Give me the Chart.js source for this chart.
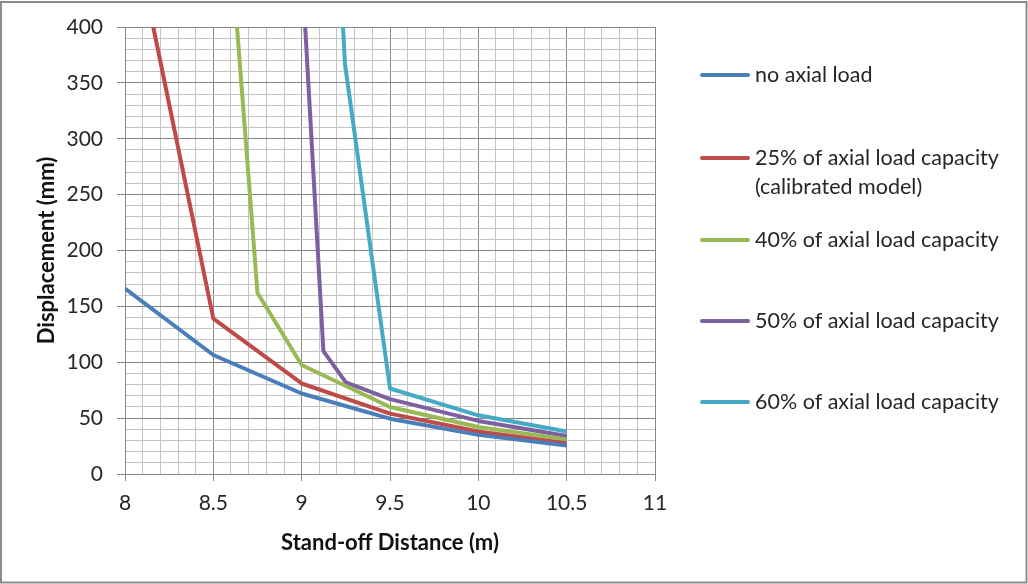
<!DOCTYPE html>
<html>
<head>
<meta charset="utf-8">
<script src="https://cdn.jsdelivr.net/npm/chart.js@4.4.1/dist/chart.umd.min.js"></script>
<style>
  html, body { margin: 0; padding: 0; background: #fff; }
  canvas { display: block; }
</style>
</head>
<body>
<canvas id="myChart" width="1028" height="584"></canvas>
<script>
// stand-off distance (m) and displacement (mm) for each axial load case
const noLoadX = [8, 8.5, 9, 9.5, 10, 10.5];
const noLoadY = [166, 106.5, 72, 49.5, 35, 25.5];

const load25X = [8.16, 8.5, 9, 9.5, 10, 10.5];
const load25Y = [400, 139, 81, 54, 38, 27.5];

const load40X = [8.634, 8.75, 9, 9.5, 10, 10.5];
const load40Y = [400, 162, 97.5, 60, 42, 31];

const load50X = [9.02, 9.123, 9.25, 9.5, 10, 10.5];
const load50Y = [400, 110, 82, 67, 47.5, 34];

const load60X = [9.234, 9.245, 9.5, 10, 10.5];
const load60Y = [400, 367, 76.5, 52.5, 38];

const seriesNames = [
  ['no axial load'],
  ['25% of axial load capacity', '(calibrated model)'],
  ['40% of axial load capacity'],
  ['50% of axial load capacity'],
  ['60% of axial load capacity']
];
const seriesColors = ['#4a7ebb', '#be4b48', '#98b954', '#7d60a0', '#46aac5'];

const xTickLabels = ['8', '8.5', '9', '9.5', '10', '10.5', '11'];
const yTickLabels = ['0', '50', '100', '150', '200', '250', '300', '350', '400'];

const FONT = 'Lato, "Open Sans", sans-serif';
const TEXT = '#262626';
const MAJOR = '#878787';
const MINOR = '#c4c4c4';

function toPoints(xs, ys) {
  return xs.map((x, i) => ({ x: x, y: ys[i] }));
}

const allX = [noLoadX, load25X, load40X, load50X, load60X];
const allY = [noLoadY, load25Y, load40Y, load50Y, load60Y];

const datasets = allX.map((xs, i) => ({
  label: seriesNames[i].join(' '),
  data: toPoints(xs, allY[i]),
  borderColor: seriesColors[i],
  backgroundColor: seriesColors[i],
  borderWidth: 4,
  borderJoinStyle: 'round',
  showLine: true,
  pointRadius: 0,
  pointHoverRadius: 0,
  clip: 0
}));

function xLabel(v) {
  const s = String(Math.round(v * 10) / 10);
  return xTickLabels.includes(s) ? s : '';
}
function yLabel(v) {
  const s = String(Math.round(v));
  return yTickLabels.includes(s) ? s : '';
}

// legend on the right with line samples, plus the outer frame
const sideLegend = {
  id: 'sideLegend',
  afterDraw(chart, args, opts) {
    const ctx = chart.ctx;
    ctx.save();
    chart.data.datasets.forEach((ds, i) => {
      const y = opts.rows[i];
      ctx.strokeStyle = ds.borderColor;
      ctx.lineWidth = 4;
      ctx.lineCap = 'round';
      ctx.beginPath();
      ctx.moveTo(opts.x, y);
      ctx.lineTo(opts.x + 46, y);
      ctx.stroke();
      ctx.fillStyle = TEXT;
      ctx.font = '21.5px ' + FONT;
      ctx.textBaseline = 'middle';
      seriesNames[i].forEach((line, j) => {
        ctx.fillText(line, opts.x + 53, y + j * opts.lineGap);
      });
    });
    ctx.strokeStyle = '#8c8c8c';
    ctx.lineWidth = 2;
    ctx.strokeRect(1, 2, 1025.5, 580.5);
    ctx.restore();
  }
};

const chartCtx = document.getElementById('myChart').getContext('2d');

const myChart = new Chart(chartCtx, {
  type: 'scatter',
  data: { datasets: datasets },
  plugins: [sideLegend],
  options: {
    responsive: false,
    animation: false,
    layout: { padding: { left: 0, top: 27, right: 373, bottom: 0 } },
    plugins: {
      legend: { display: false },
      tooltip: { enabled: false },
      sideLegend: { x: 702, rows: [75, 158, 240, 321, 402], lineGap: 29 }
    },
    scales: {
      x: {
        type: 'linear',
        min: 8,
        max: 11,
        afterFit(scale) { scale.height = 110; },
        ticks: {
          stepSize: 0.1,
          autoSkip: false,
          maxRotation: 0,
          minRotation: 0,
          padding: 10,
          color: TEXT,
          font: { family: FONT, size: 21 },
          callback: (v) => xLabel(v)
        },
        grid: {
          color: (c) => xLabel(c.tick.value) ? MAJOR : MINOR,
          tickColor: (c) => xLabel(c.tick.value) ? MAJOR : 'rgba(0,0,0,0)',
          tickLength: 7
        },
        border: { color: MAJOR },
        title: {
          display: true,
          text: 'Stand-off Distance (m)',
          color: '#111',
          font: { family: FONT, size: 22, weight: 'bold' },
          padding: { top: 0, bottom: 28 }
        }
      },
      y: {
        type: 'linear',
        min: 0,
        max: 400,
        afterFit(scale) { scale.width = 125; },
        ticks: {
          stepSize: 10,
          autoSkip: false,
          padding: 14,
          color: TEXT,
          font: { family: FONT, size: 21 },
          callback: (v) => yLabel(v)
        },
        grid: {
          color: (c) => yLabel(c.tick.value) ? MAJOR : MINOR,
          tickColor: (c) => yLabel(c.tick.value) ? MAJOR : 'rgba(0,0,0,0)',
          tickLength: 8
        },
        border: { color: MAJOR },
        title: {
          display: true,
          text: 'Displacement (mm)',
          color: '#111',
          font: { family: FONT, size: 22, weight: 'bold' },
          padding: { top: 34, bottom: 0 }
        }
      }
    }
  }
});
</script>
</body>
</html>
